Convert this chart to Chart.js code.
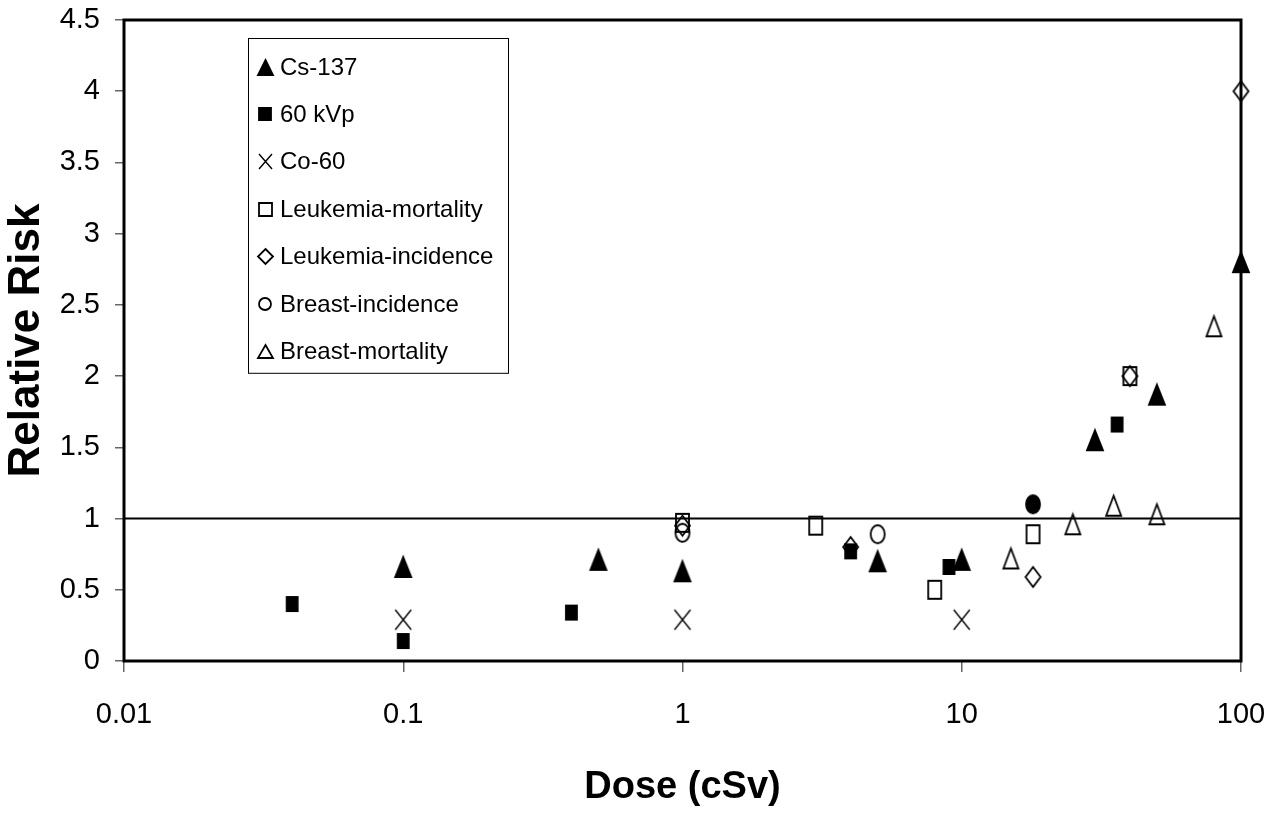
<!DOCTYPE html>
<html>
<head>
<meta charset="utf-8">
<script src="https://cdn.jsdelivr.net/npm/chart.js@4.4.1/dist/chart.umd.min.js"></script>
<style>
  html, body { margin: 0; padding: 0; background: #fff; }
</style>
</head>
<body>
<canvas id="risk-chart" width="1283" height="816"></canvas>
<script>
// data
var seriesNames = ['Cs-137', '60 kVp', 'Co-60', 'Leukemia-mortality', 'Leukemia-incidence', 'Breast-incidence', 'Breast-mortality'];

var cs137Dose = [0.1, 0.5, 1, 5, 10, 30, 50, 100];
var cs137Risk = [0.66, 0.71, 0.63, 0.70, 0.71, 1.55, 1.87, 2.80];

var kvpDose = [0.04, 0.1, 0.4, 4, 9, 36];
var kvpRisk = [0.40, 0.14, 0.34, 0.77, 0.66, 1.66];

var co60Dose = [0.1, 1, 10];
var co60Risk = [0.29, 0.29, 0.29];

var leukMortDose = [1, 3, 8, 18, 40];
var leukMortRisk = [0.97, 0.95, 0.50, 0.89, 2.00];

var leukIncDose = [1, 4, 18, 40, 100];
var leukIncRisk = [0.95, 0.80, 0.59, 2.00, 4.00];

var breastIncDose = [1, 5, 18];
var breastIncRisk = [0.90, 0.89, 1.10];

var breastMortDose = [15, 25, 35, 50, 80];
var breastMortRisk = [0.72, 0.96, 1.09, 1.03, 2.35];

var xTicks = [0.01, 0.1, 1, 10, 100];
var yTicks = [0, 0.5, 1, 1.5, 2, 2.5, 3, 3.5, 4, 4.5];
var referenceRisk = 1;

var sans = '"Liberation Sans", Arial, sans-serif';

// small canvas markers (the original ones are taller than wide)
function makeMarker(kind, w, h, filled) {
    var pad = 2;
    var c = document.createElement('canvas');
    c.width = w + pad * 2;
    c.height = h + pad * 2;
    var g = c.getContext('2d');
    g.translate(pad, pad);
    g.strokeStyle = '#000';
    g.fillStyle = '#000';
    g.lineWidth = kind === 'cross' ? 1.4 : 1.8;
    g.beginPath();
    if (kind === 'triangle') {
        g.moveTo(w / 2, 1); g.lineTo(w - 1, h - 1); g.lineTo(1, h - 1); g.closePath();
    } else if (kind === 'rect') {
        g.rect(1, 1, w - 2, h - 2);
    } else if (kind === 'diamond') {
        g.moveTo(w / 2, 1); g.lineTo(w - 1, h / 2); g.lineTo(w / 2, h - 1); g.lineTo(1, h / 2); g.closePath();
    } else if (kind === 'circle') {
        g.ellipse(w / 2, h / 2, w / 2 - 1, h / 2 - 1, 0, 0, Math.PI * 2);
    } else if (kind === 'cross') {
        g.moveTo(1, 1); g.lineTo(w - 1, h - 1); g.moveTo(w - 1, 1); g.lineTo(1, h - 1);
    }
    if (filled) g.fill();
    g.stroke();
    return c;
}

var plotMarkers = [
    makeMarker('triangle', 18, 22, true),
    makeMarker('rect', 13, 16, true),
    makeMarker('cross', 18, 22, false),
    makeMarker('rect', 15, 20, false),
    makeMarker('diamond', 17, 22, false),
    makeMarker('circle', 16, 20, false),
    makeMarker('triangle', 17, 22, false)
];
var legendMarkers = [
    makeMarker('triangle', 17, 17, true),
    makeMarker('rect', 14, 14, true),
    makeMarker('cross', 15, 17, false),
    makeMarker('rect', 15, 15, false),
    makeMarker('diamond', 17, 17, false),
    makeMarker('circle', 14, 14, false),
    makeMarker('triangle', 17, 15, false)
];
var solidDot = makeMarker('circle', 16, 20, true);

function toPoints(xs, ys) {
    return xs.map(function(x, i) { return { x: x, y: ys[i] }; });
}

var doses = [cs137Dose, kvpDose, co60Dose, leukMortDose, leukIncDose, breastIncDose, breastMortDose];
var risks = [cs137Risk, kvpRisk, co60Risk, leukMortRisk, leukIncRisk, breastIncRisk, breastMortRisk];

var datasets = seriesNames.map(function(name, i) {
    var style = plotMarkers[i];
    if (name === 'Breast-incidence') {
        // the point at 18 cSv shows up as a solid blob
        style = breastIncDose.map(function(d) { return d === 18 ? solidDot : plotMarkers[i]; });
    }
    return {
        label: name,
        data: toPoints(doses[i], risks[i]),
        pointStyle: style,
        pointRadius: 8,
        legendMarker: legendMarkers[i],
        order: seriesNames.length - i,
        clip: false
    };
});

datasets.push({
    type: 'line',
    label: 'reference',
    data: [{ x: xTicks[0], y: referenceRisk }, { x: xTicks[xTicks.length - 1], y: referenceRisk }],
    borderColor: '#000',
    borderWidth: 2,
    pointRadius: 0,
    order: 20,
    isReference: true
});

// plot-area frame
var framePlugin = {
    id: 'frame',
    beforeDatasetsDraw: function(chart) {
        var a = chart.chartArea, ctx = chart.ctx;
        ctx.save();
        ctx.strokeStyle = '#000';
        ctx.lineWidth = 3;
        ctx.strokeRect(a.left, a.top, a.right - a.left, a.bottom - a.top);
        ctx.restore();
    }
};

// boxed legend sitting inside the plot
var boxLegendPlugin = {
    id: 'boxLegend',
    afterDatasetsDraw: function(chart) {
        var a = chart.chartArea, ctx = chart.ctx;
        var left = a.left + 124, top = a.top + 18, w = 260, rowH = 47.4;
        var items = chart.data.datasets.filter(function(d) { return !d.isReference; });
        ctx.save();
        ctx.fillStyle = '#fff';
        ctx.fillRect(left, top, w, rowH * items.length + 3);
        ctx.strokeStyle = '#000';
        ctx.lineWidth = 1;
        ctx.strokeRect(left + 0.5, top + 0.5, w, rowH * items.length + 3);
        ctx.font = '24px ' + sans;
        ctx.fillStyle = '#000';
        ctx.textBaseline = 'middle';
        items.forEach(function(d, i) {
            var cy = top + 29 + i * rowH;
            var m = d.legendMarker;
            ctx.drawImage(m, Math.round(left + 17 - m.width / 2), Math.round(cy - m.height / 2));
            ctx.fillText(d.label, left + 32, cy + 1);
        });
        ctx.restore();
    }
};

var ctx = document.getElementById('risk-chart').getContext('2d');
new Chart(ctx, {
    type: 'scatter',
    data: { datasets: datasets },
    options: {
        responsive: false,
        animation: false,
        layout: { padding: { top: 20, right: 42, left: 0, bottom: 0 } },
        plugins: { legend: { display: false }, tooltip: { enabled: false } },
        scales: {
            x: {
                type: 'logarithmic',
                min: xTicks[0],
                max: xTicks[xTicks.length - 1],
                afterBuildTicks: function(scale) {
                    scale.ticks = xTicks.map(function(v) { return { value: v }; });
                },
                afterFit: function(scale) {
                    scale.height = 155;
                    scale.paddingLeft = 0;
                    scale.paddingRight = 0;
                },
                ticks: {
                    color: '#000',
                    font: { family: sans, size: 29 },
                    padding: 26,
                    maxRotation: 0,
                    autoSkip: false,
                    callback: function(v) { return String(v); }
                },
                grid: { drawOnChartArea: false, color: '#666', tickLength: 11, lineWidth: 1.5 },
                border: { display: false },
                title: {
                    display: true,
                    text: 'Dose (cSv)',
                    color: '#000',
                    font: { family: sans, size: 38, weight: 'bold' },
                    padding: { top: 0, bottom: 6 }
                }
            },
            y: {
                min: yTicks[0],
                max: yTicks[yTicks.length - 1],
                afterBuildTicks: function(scale) {
                    scale.ticks = yTicks.map(function(v) { return { value: v }; });
                },
                afterFit: function(scale) {
                    scale.width = 124;
                    scale.paddingTop = 0;
                    scale.paddingBottom = 0;
                },
                ticks: {
                    color: '#000',
                    font: { family: sans, size: 29 },
                    padding: 15,
                    callback: function(v) { return String(v); }
                },
                grid: { drawOnChartArea: false, color: '#666', tickLength: 9, lineWidth: 1.5 },
                border: { display: false },
                title: {
                    display: true,
                    text: 'Relative Risk',
                    color: '#000',
                    font: { family: sans, size: 44, weight: 'bold' },
                    padding: { top: 0, bottom: 0 }
                }
            }
        }
    },
    plugins: [framePlugin, boxLegendPlugin]
});
</script>
</body>
</html>
